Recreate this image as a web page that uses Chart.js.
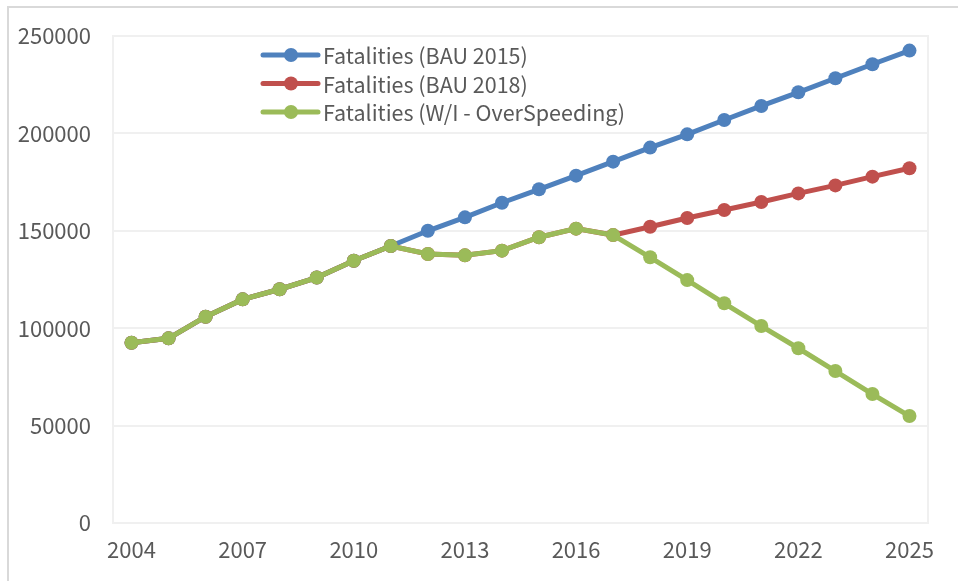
<!DOCTYPE html>
<html>
<head>
<meta charset="utf-8">
<script src="https://cdn.jsdelivr.net/npm/chart.js@4/dist/chart.umd.min.js"></script>
<style>
  html, body { margin: 0; padding: 0; background: #fff; }
  #wrap { width: 958px; height: 581px; position: relative; }
</style>
</head>
<body>
<div id="wrap"><canvas id="fatalityChart"></canvas></div>
<script>
const years = [2004, 2005, 2006, 2007, 2008, 2009, 2010, 2011, 2012, 2013, 2014,
  2015, 2016, 2017, 2018, 2019, 2020, 2021, 2022, 2023, 2024, 2025];

const bau2015 = [92500, 94800, 105900, 114800, 120000, 126000, 134600, 142200, 150000, 156900, 164400,
  171300, 178300, 185500, 192700, 199500, 206900, 214100, 221100, 228300, 235500, 242500];

const bau2018 = [92500, 94800, 105900, 114800, 120000, 126000, 134600, 142200, 138100, 137400, 139800,
  146700, 151100, 147800, 152100, 156600, 160700, 164800, 169200, 173300, 177800, 182100];

const overSpeeding = [92500, 94800, 105900, 114800, 120000, 126000, 134600, 142200, 138100, 137400, 139800,
  146700, 151100, 147800, 136400, 124700, 112800, 101100, 89700, 78000, 66200, 54900];

const yTicks = [0, 50000, 100000, 150000, 200000, 250000];

const FONT = '"Noto Sans CJK JP", "Noto Sans", sans-serif';
const TEXT = '#595959';

// outer frame + plot box
const framePlugin = {
  id: 'frame',
  beforeDraw(chart) {
    const ctx = chart.ctx;
    const a = chart.chartArea;
    ctx.save();
    ctx.strokeStyle = '#d9d9d9';
    ctx.lineWidth = 2;
    ctx.beginPath();
    ctx.moveTo(8, chart.height + 2);
    ctx.lineTo(8, 7);
    ctx.lineTo(chart.width + 2, 7);
    ctx.stroke();
    ctx.strokeStyle = '#f0f0f0';
    ctx.lineWidth = 2;
    ctx.strokeRect(a.left, a.top, a.right - a.left, a.bottom - a.top);
    ctx.strokeStyle = '#d9d9d9';
    ctx.beginPath();
    ctx.moveTo(a.left, a.bottom);
    ctx.lineTo(a.right, a.bottom);
    ctx.stroke();
    ctx.restore();
  }
};

// legend drawn inside the plot, line + marker style
const innerLegend = {
  id: 'innerLegend',
  afterDraw(chart) {
    const ctx = chart.ctx;
    const a = chart.chartArea;
    const x0 = a.left + 150;
    const y0 = a.top + 19;
    ctx.save();
    ctx.font = '21.5px ' + FONT;
    ctx.textBaseline = 'middle';
    chart.data.datasets.forEach((ds, i) => {
      const y = y0 + i * 28.5;
      ctx.strokeStyle = ds.borderColor;
      ctx.lineWidth = 5;
      ctx.lineCap = 'round';
      ctx.beginPath();
      ctx.moveTo(x0, y);
      ctx.lineTo(x0 + 55, y);
      ctx.stroke();
      ctx.fillStyle = ds.borderColor;
      ctx.beginPath();
      ctx.arc(x0 + 28, y, 7, 0, Math.PI * 2);
      ctx.fill();
      ctx.fillStyle = TEXT;
      ctx.fillText(ds.label, x0 + 60, y + 1);
    });
    ctx.restore();
  }
};

function series(label, data, color, order) {
  return {
    label: label,
    data: data,
    borderColor: color,
    backgroundColor: color,
    borderWidth: 5,
    pointRadius: 7,
    pointHoverRadius: 7,
    pointBorderWidth: 0,
    tension: 0,
    order: order
  };
}

const ctx = document.getElementById('fatalityChart').getContext('2d');
new Chart(ctx, {
  type: 'line',
  data: {
    labels: years,
    datasets: [
      series('Fatalities (BAU 2015)', bau2015, '#4f81bd', 3),
      series('Fatalities (BAU 2018)', bau2018, '#c0504d', 2),
      series('Fatalities (W/I - OverSpeeding)', overSpeeding, '#9bbb59', 1)
    ]
  },
  options: {
    responsive: true,
    maintainAspectRatio: false,
    animation: false,
    layout: { padding: { top: 36, right: 30, left: 0, bottom: 0 } },
    plugins: {
      legend: { display: false },
      tooltip: { enabled: false }
    },
    scales: {
      x: {
        offset: true,
        grid: { display: false, drawTicks: false },
        border: { display: false },
        ticks: {
          autoSkip: false,
          maxRotation: 0,
          padding: 13,
          color: TEXT,
          font: { family: FONT, size: 22 },
          callback: function(value, index) {
            return index % 3 === 0 ? String(years[index]) : '';
          }
        },
        afterFit(scale) { scale.height = 58; }
      },
      y: {
        min: 0,
        max: 250000,
        afterBuildTicks(scale) { scale.ticks = yTicks.map(v => ({ value: v })); },
        grid: { color: '#f0f0f0', lineWidth: 2, drawTicks: false },
        border: { display: false },
        ticks: {
          padding: 22,
          color: TEXT,
          font: { family: FONT, size: 22 },
          callback: function(value) { return String(value); }
        },
        afterFit(scale) { scale.width = 113; }
      }
    }
  },
  plugins: [framePlugin, innerLegend]
});
</script>
</body>
</html>
